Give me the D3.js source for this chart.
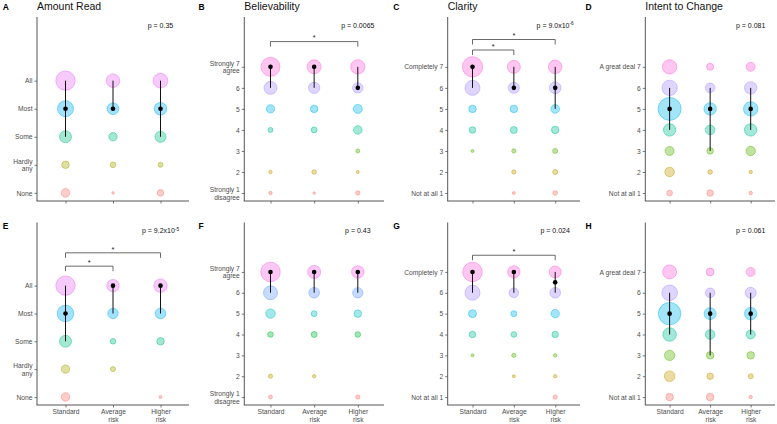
<!DOCTYPE html>
<html><head><meta charset="utf-8">
<script src="https://cdn.jsdelivr.net/npm/d3@7/dist/d3.min.js"></script>
<style>body{margin:0;background:#fff} svg{opacity:0.999} text{font-family:"Liberation Sans",Arial,Helvetica,sans-serif}</style>
</head><body><svg id="chart" width="777" height="424"></svg>
<script>
// ---------- data ----------
const groups = ["Standard", "Average\nrisk", "Higher\nrisk"];
const readLevels = ["None", "Hardly\nany", "Some", "Most", "All"];
const agreeLevels = ["Strongly 1\ndisagree", "2", "3", "4", "5", "6", "Strongly 7\nagree"];
const clarityLevels = ["Not at all 1", "2", "3", "4", "5", "6", "Completely 7"];
const intentLevels = ["Not at all 1", "2", "3", "4", "5", "6", "A great deal 7"];

// counts per group (rows: Standard, Average risk, Higher risk), per level (low -> high)
const amountReadA = [[23, 18, 42, 72, 104], [3, 11, 22, 40, 53], [14, 9, 36, 46, 61]];
const believabilityB = [[5, 5, 0, 9, 22, 49, 100], [3, 8, 0, 12, 18, 38, 56], [7, 4, 6, 23, 25, 32, 59]];
const clarityC = [[0, 0, 4, 14, 18, 64, 114], [4, 7, 7, 16, 18, 36, 49], [8, 9, 9, 18, 23, 40, 53]];
const intentD = [[11, 28, 25, 45, 144, 67, 59], [14, 8, 14, 28, 45, 28, 16], [5, 5, 27, 45, 59, 45, 25]];
const amountReadE = [[23, 22, 42, 77, 104], [0, 9, 11, 32, 45], [4, 0, 18, 34, 52]];
const believabilityF = [[6, 7, 0, 11, 27, 56, 106], [0, 5, 0, 12, 12, 34, 49], [7, 0, 0, 11, 18, 32, 46]];
const clarityG = [[0, 0, 4, 14, 20, 64, 106], [0, 4, 7, 11, 12, 28, 45], [7, 5, 5, 14, 22, 34, 42]];
const intentH = [[18, 34, 32, 53, 137, 69, 56], [18, 14, 18, 28, 42, 28, 20], [5, 9, 18, 25, 45, 36, 25]];

// median, first quartile, third quartile per group
const statsA = [[4, 3, 5], [4, 4, 5], [4, 3, 5]];
const statsB = [[7, 6, 7], [7, 6, 7], [6, 6, 7]];
const statsC = [[7, 6, 7], [6, 6, 7], [6, 5, 7]];
const statsD = [[5, 4, 6], [5, 3, 6], [5, 4, 6]];
const statsE = [[4, 3, 5], [5, 4, 5], [5, 4, 5]];
const statsF = [[7, 6, 7], [7, 6, 7], [7, 6, 7]];
const statsG = [[7, 6, 7], [7, 6, 7], [6.5, 6, 7]];
const statsH = [[5, 4, 6], [5, 3, 6], [5, 4, 6]];

const pValues = [
  {base: "p = 0.35"}, {base: "p = 0.0065"}, {base: "p = 9.0x10", exp: "-6"}, {base: "p = 0.081"},
  {base: "p = 9.2x10", exp: "-5"}, {base: "p = 0.43"}, {base: "p = 0.024"}, {base: "p = 0.061"}
];
// significance brackets: [group i, group j, height in level units]
const bracketsB = [[0, 2, 8.2]];
const bracketsC = [[0, 2, 8.3], [0, 1, 7.8]];
const bracketsE = [[0, 2, 6.18], [0, 1, 5.7]];
const bracketsG = [[0, 2, 7.8]];

const hue5 = ["#F8766D", "#A3A500", "#00BF7D", "#00B0F6", "#E76BF3"];
const hue6 = ["#F8766D", "#B79F00", "#00BA38", "#00BFC4", "#619CFF", "#F564E3"];
const hue7 = ["#F8766D", "#C49A00", "#53B400", "#00C094", "#00B6EB", "#A58AFF", "#FB61D7"];

const panels = [
  {letter: "A", title: "Amount Read", levels: readLevels, counts: amountReadA, stats: statsA, brackets: []},
  {letter: "B", title: "Believability", levels: agreeLevels, counts: believabilityB, stats: statsB, brackets: bracketsB},
  {letter: "C", title: "Clarity", levels: clarityLevels, counts: clarityC, stats: statsC, brackets: bracketsC},
  {letter: "D", title: "Intent to Change", levels: intentLevels, counts: intentD, stats: statsD, brackets: []},
  {letter: "E", title: "", levels: readLevels, counts: amountReadE, stats: statsE, brackets: bracketsE},
  {letter: "F", title: "", levels: agreeLevels, counts: believabilityF, stats: statsF, brackets: []},
  {letter: "G", title: "", levels: clarityLevels, counts: clarityG, stats: statsG, brackets: bracketsG},
  {letter: "H", title: "", levels: intentLevels, counts: intentH, stats: statsH, brackets: []}
];

// ---------- layout ----------
const colX = [[37, 189], [244.3, 384], [447.7, 580], [645.3, 775]];
const rowY = [[17, 201], [222.5, 405]];
const letterX = [2.7, 198.5, 393.3, 585.5];
const letterBase = [9.5, 229];
const yDomains = {5: [0.71, 7.27], 7: [0.62, 9.37]};
const rScale = d3.scaleSqrt().domain([0, 100]).range([0, 10]);
const tickCol = "#4d4d4d";
const lineH = 1.15;

const svg = d3.select("#chart");

function multiline(sel, anchorFirstDy, vertical) {
  sel.each(function() {
    const t = d3.select(this);
    const lines = t.text().split("\n");
    const x = t.attr("x") || 0;
    t.text(null).attr("dy", null);
    lines.forEach((ln, i) => {
      let dy;
      if (vertical) dy = i === 0 ? (0.32 - (lines.length - 1) * lineH / 2) + "em" : lineH + "em";
      else dy = i === 0 ? anchorFirstDy + "em" : lineH + "em";
      t.append("tspan").attr("x", x).attr("dy", dy).text(ln);
    });
  });
}

panels.forEach((P, k) => {
  const row = Math.floor(k / 4), col = k % 4;
  const [x0, x1] = colX[col];
  const [yTop, yBot] = rowY[row];
  const n = P.levels.length;
  const x = d3.scalePoint().domain(d3.range(3)).range([x0, x1]).padding(0.6);
  const y = d3.scaleLinear().domain(yDomains[n]).range([yBot, yTop]);

  // colours only for levels present
  const present = d3.range(n).filter(l => P.counts.some(g => g[l] > 0));
  const pal = present.length === 5 ? hue5 : present.length === 6 ? hue6 : hue7;
  const color = l => pal[present.indexOf(l)];

  const g = svg.append("g");

  // axes
  const yAxis = d3.axisLeft(y).tickValues(d3.range(1, n + 1)).tickFormat(v => P.levels[v - 1])
    .tickSize(2.5).tickSizeOuter(0).tickPadding(2);
  const ya = g.append("g").attr("transform", `translate(${x0},0)`).call(yAxis);
  ya.select(".domain").attr("d", `M0,${yTop}V${yBot}`);
  const xAxis = d3.axisBottom(x).tickFormat(i => row === 1 ? groups[i] : "")
    .tickSize(2.5).tickSizeOuter(0).tickPadding(2);
  const xa = g.append("g").attr("transform", `translate(0,${yBot})`).call(xAxis);
  xa.select(".domain").attr("d", `M${x0 - 0.5},0H${x1}`);
  [ya, xa].forEach(a => {
    a.select(".domain").attr("stroke", "#555").attr("stroke-width", 1);
    a.selectAll(".tick line").attr("stroke", "#555").attr("stroke-width", 0.8);
    a.selectAll(".tick text").attr("fill", tickCol).style("font-size", "6.7px")
      .style("font-family", '"Liberation Sans",Arial,sans-serif');
  });
  multiline(ya.selectAll(".tick text"), 0, true);
  multiline(xa.selectAll(".tick text"), 0.71, false);

  // bubbles
  P.counts.forEach((grp, gi) => {
    grp.forEach((v, l) => {
      if (v <= 0) return;
      g.append("circle")
        .attr("cx", x(gi)).attr("cy", y(l + 1))
        .attr("r", Math.max(0.6, rScale(v) - 0.5))
        .attr("fill", color(l)).attr("fill-opacity", 0.36)
        .attr("stroke", color(l)).attr("stroke-opacity", 0.45).attr("stroke-width", 1);
    });
  });

  // IQR and medians
  P.stats.forEach((s, gi) => {
    g.append("line").attr("x1", x(gi)).attr("x2", x(gi))
      .attr("y1", y(s[1])).attr("y2", y(s[2]))
      .attr("stroke", "#111").attr("stroke-width", 1);
    g.append("circle").attr("cx", x(gi)).attr("cy", y(s[0])).attr("r", 2.3).attr("fill", "#000");
  });

  // brackets
  P.brackets.forEach(([a, b, h]) => {
    const yy = y(h);
    g.append("path")
      .attr("d", `M${x(a)},${yy + 5}V${yy}H${x(b)}V${yy + 5}`)
      .attr("fill", "none").attr("stroke", "#444").attr("stroke-width", 0.8);
    g.append("text").attr("x", (x(a) + x(b)) / 2).attr("y", yy - 1.2)
      .attr("text-anchor", "middle").style("font-size", "7.5px").attr("fill", "#222").text("*");
  });

  // p value
  const pv = pValues[k];
  const pt = g.append("text").attr("x", x(2)).attr("y", yTop + 10.5)
    .attr("text-anchor", "middle").style("font-size", "7px").attr("fill", "#111");
  pt.append("tspan").text(pv.base);
  if (pv.exp) pt.append("tspan").attr("dy", "-0.45em").style("font-size", "4.8px").text(pv.exp);

  // panel letter and title
  svg.append("text").attr("x", letterX[col]).attr("y", letterBase[row])
    .style("font-size", "8.5px").style("font-weight", "bold").attr("fill", "#000").text(P.letter);
  if (P.title) svg.append("text").attr("x", x0).attr("y", 10)
    .style("font-size", "10.5px").attr("fill", "#111").text(P.title);
});
</script></body></html>
